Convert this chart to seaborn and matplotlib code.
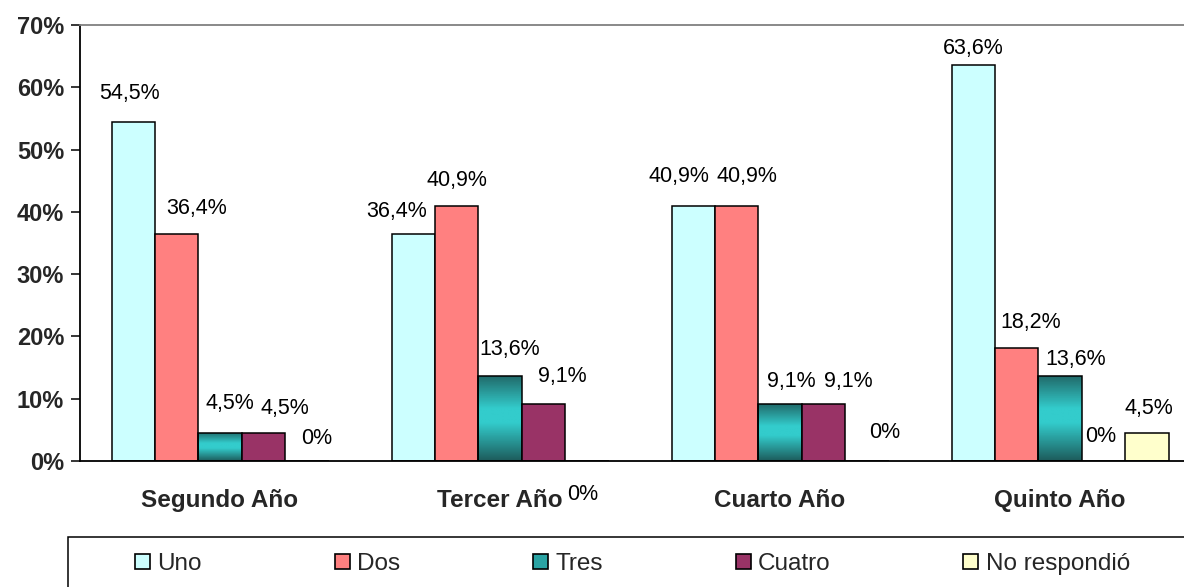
import numpy as np
import pandas as pd
import matplotlib
matplotlib.use("Agg")
import matplotlib.pyplot as plt
import seaborn as sns
from matplotlib.patches import Patch, Rectangle
from matplotlib.colors import LinearSegmentedColormap

# Data (percent of students)
years = ["Segundo Año", "Tercer Año", "Cuarto Año", "Quinto Año"]
answers = ["Uno", "Dos", "Tres", "Cuatro", "No respondió"]
uno = [54.5, 36.4, 40.9, 63.6]
dos = [36.4, 40.9, 40.9, 18.2]
tres = [4.5, 13.6, 9.1, 13.6]
cuatro = [4.5, 9.1, 9.1, 0.0]
no_resp = [0.0, 0.0, 0.0, 4.5]

colors = ["#CCFFFF", "#FF8080", "#33CCCC", "#993366", "#FFFFCC"]

# where Excel put each value label (pixels from bar top centre)
label_offsets = [
    [(-4, 28), (-17, 23), (-14, 30), (0, 16)],
    [(20, 26), (0, 26), (10, 30), (14, 25)],
    [(10, 29), (10, 27), (11, 23), (16, 17)],
    [(21, 24), (19, 28), (25, 23), (-3, 24)],
    [(10, 23), (-4, -33), (18, 29), (2, 24)],
]

series = [uno, dos, tres, cuatro, no_resp]
df = pd.DataFrame({
    "anio": np.repeat([years], len(answers), axis=0).ravel(),
    "resp": np.repeat(answers, len(years)),
    "pct": np.concatenate(series),
})

sns.set_theme(style="white")
plt.rcParams["font.family"] = ["Liberation Sans", "DejaVu Sans"]

fig = plt.figure(figsize=(11.84, 5.87), dpi=100)
ax = fig.add_axes([80 / 1184, 126 / 587, 1120 / 1184, 436 / 587])

sns.barplot(data=df, x="anio", y="pct", hue="resp", order=years, hue_order=answers,
            palette=colors, width=0.775, edgecolor="black", linewidth=1.1,
            saturation=1, ax=ax, legend=False)

# gradient fill for the "Tres" bars
grad = LinearSegmentedColormap.from_list(
    "tres", [(0, "#1D5C5C"), (0.45, "#33CCCC"), (0.62, "#33CCCC"), (1, "#216C6C")])
for bar in ax.containers[2]:
    x0, y0 = bar.get_x(), bar.get_y()
    w, h = bar.get_width(), bar.get_height()
    if h <= 0:
        continue
    img = ax.imshow(np.linspace(0, 1, 100).reshape(-1, 1), cmap=grad, origin="lower",
                    extent=[x0, x0 + w, y0, y0 + h], aspect="auto", zorder=bar.get_zorder() - 0.1)
    img.set_clip_path(bar)
    bar.set_facecolor("none")

# value labels
for i, cont in enumerate(ax.containers):
    for j, bar in enumerate(cont):
        v = series[i][j]
        txt = "0%" if v == 0 else f"{v:.1f}".replace(".", ",") + "%"
        dx, dy = label_offsets[i][j]
        ax.annotate(txt, (bar.get_x() + bar.get_width() / 2, bar.get_height()),
                    xytext=(dx, dy), textcoords="offset pixels",
                    ha="center", va="center", fontsize=15.5, color="black",
                    annotation_clip=False)

ax.set_xlim(-0.5, 3.5)
ax.set_ylim(0, 70)
ax.set_yticks(np.arange(0, 71, 10))
ax.set_yticklabels([f"{t}%" for t in range(0, 71, 10)], fontsize=17, fontweight="bold")
ax.set_xticks(range(len(years)))
ax.set_xticklabels(years, fontsize=17.5, fontweight="bold")
ax.set_xticks([-0.5, 0.5, 1.5, 2.5, 3.5], minor=True)
ax.tick_params(axis="x", which="major", length=0, pad=20)
ax.tick_params(axis="x", which="minor", length=6, width=1.1, color="black", direction="out")
ax.tick_params(axis="y", length=6.5, width=1.1, color="black", direction="out", left=True, pad=5)
ax.set_xlabel("")
ax.set_ylabel("")

for s in ["left", "bottom"]:
    ax.spines[s].set_color("black")
    ax.spines[s].set_linewidth(1.3)
ax.spines["top"].set_color("#808080")
ax.spines["top"].set_linewidth(1.3)
ax.spines["right"].set_visible(False)

# legend
handles = [Patch(facecolor=c, edgecolor="black", linewidth=1.2) for c in colors]
handles[2] = Patch(facecolor="#2AA3A3", edgecolor="black", linewidth=1.2)
fig.legend(handles, answers, loc="center left", ncol=5, mode="expand",
           bbox_to_anchor=(135 / 1184, (587 - 579) / 587, 995 / 1184, 30 / 587),
           frameon=False, fontsize=17.5, handlelength=0.62, handleheight=0.6,
           handletextpad=0.3, borderpad=0, borderaxespad=0)
fig.patches.append(Rectangle((68 / 1184, -5 / 587), 1.1, 55 / 587, transform=fig.transFigure,
                             facecolor="none", edgecolor="black", linewidth=1.1))

fig.savefig("out.png", dpi=100)
